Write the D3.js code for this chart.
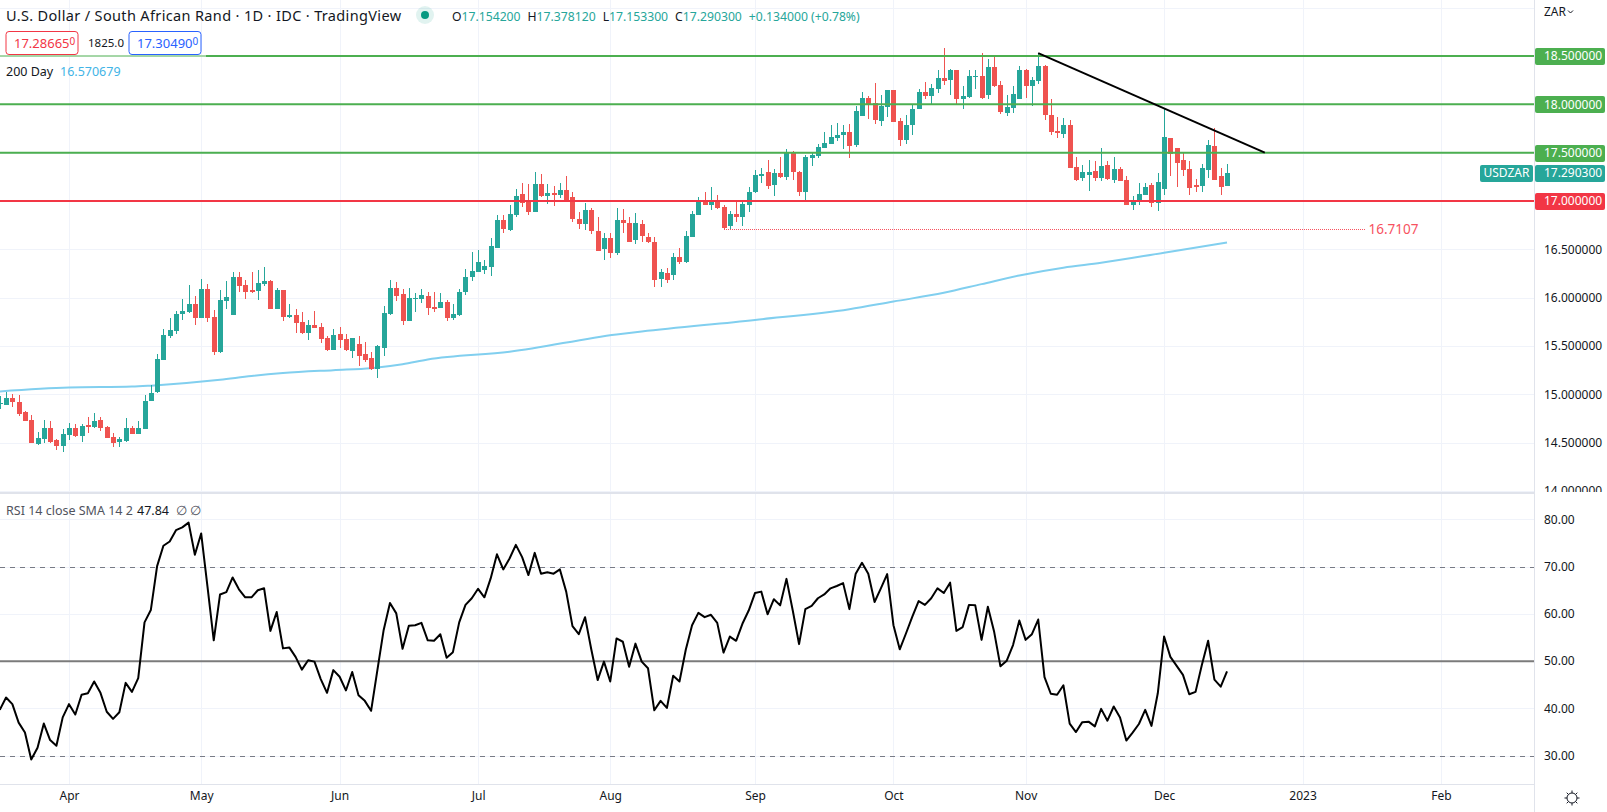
<!DOCTYPE html>
<html lang="en">
  <head>
    <meta charset="UTF-8" />
    <title>USDZAR Daily</title>
    <script src="https://d3js.org/d3.v7.min.js"></script>
    <style>
      html, body { margin: 0; padding: 0; background: #fff; overflow: hidden; }
      text { font-family: "Noto Sans", sans-serif; }
    </style>
  </head>

  <body>
    <script>
      // one candle per weekday, day 0 is 1 Apr 2022
      const firstDay = -11;

      const opens = [
        14.90,14.89,14.96,14.92,14.82,14.73,14.49,14.54,14.65,14.53,
        14.47,14.58,14.65,14.57,14.68,14.66,14.73,14.66,14.56,14.51,
        14.52,14.65,14.59,14.64,14.93,15.02,15.35,15.60,15.66,15.83,
        15.85,15.93,15.79,16.09,15.80,15.44,15.97,15.82,16.21,16.13,
        16.08,16.07,16.14,16.17,15.88,16.08,15.80,15.82,15.75,15.63,
        15.72,15.70,15.58,15.46,15.62,15.57,15.45,15.52,15.42,15.38,
        15.26,15.48,15.83,16.10,16.04,15.76,15.99,15.99,16.02,15.90,
        15.89,15.96,15.79,15.82,16.06,16.21,16.27,16.29,16.32,16.51,
        16.80,16.70,16.86,17.07,17.01,16.89,17.18,17.05,17.08,17.06,
        17.11,17.04,16.81,16.76,16.91,16.69,16.50,16.62,16.46,16.80,
        16.77,16.60,16.76,16.63,16.58,16.19,16.26,16.23,16.42,16.37,
        16.63,16.86,17.00,16.96,17.01,16.94,16.74,16.87,16.83,16.96,
        17.09,17.26,17.30,17.17,17.29,17.25,17.51,17.30,17.09,17.44,
        17.47,17.55,17.59,17.65,17.68,17.71,17.58,17.88,18.07,18.01,
        17.83,17.97,18.15,17.83,17.63,17.79,17.95,18.13,18.09,18.16,
        18.27,18.25,18.36,18.06,18.08,18.28,18.29,18.10,18.39,18.20,
        17.91,17.96,18.05,18.36,18.19,18.24,18.40,17.89,17.72,17.69,
        17.79,17.35,17.24,17.27,17.31,17.24,17.37,17.22,17.33,17.22,
        16.96,16.99,17.06,17.17,16.98,17.12,17.65,17.55,17.42,17.33,
        17.17,17.15,17.32,17.57,17.26,17.154,
      ];
      const highs = [
        14.98,15.02,15.00,14.99,14.83,14.79,14.61,14.73,14.72,14.54,
        14.64,14.70,14.69,14.69,14.77,14.81,14.77,14.67,14.60,14.56,
        14.75,14.67,14.72,14.99,15.10,15.42,15.68,15.79,15.86,15.99,
        16.13,16.02,16.19,16.14,15.87,16.08,16.17,16.27,16.27,16.18,
        16.27,16.29,16.32,16.18,16.10,16.08,15.93,15.88,15.85,15.77,
        15.86,15.74,15.60,15.68,15.70,15.62,15.58,15.60,15.54,15.44,
        15.51,15.91,16.18,16.16,16.09,16.10,16.05,16.09,16.06,16.06,
        16.05,15.98,15.93,16.09,16.30,16.47,16.49,16.39,16.62,16.86,
        16.86,16.96,17.12,17.19,17.18,17.30,17.28,17.18,17.16,17.19,
        17.26,17.09,16.89,16.98,16.93,16.83,16.67,16.67,16.93,16.92,
        16.83,16.88,16.80,16.67,16.63,16.30,16.31,16.46,16.51,16.69,
        16.90,17.04,17.09,17.14,17.06,16.96,16.90,16.99,17.00,17.14,
        17.32,17.34,17.42,17.33,17.46,17.54,17.52,17.31,17.48,17.50,
        17.59,17.71,17.79,17.81,17.79,17.80,17.98,18.13,18.09,18.22,
        18.10,18.15,18.15,17.86,17.89,18.00,18.16,18.23,18.21,18.35,
        18.58,18.37,18.36,18.19,18.35,18.36,18.53,18.47,18.50,18.24,
        18.10,18.19,18.40,18.37,18.28,18.53,18.41,18.06,17.87,17.86,
        17.84,17.46,17.37,17.42,17.41,17.55,17.41,17.46,17.35,17.26,
        17.05,17.19,17.19,17.19,17.29,17.95,17.65,17.55,17.50,17.41,
        17.23,17.38,17.63,17.76,17.34,17.378,
      ];
      const lows = [
        14.85,14.89,14.87,14.78,14.72,14.50,14.48,14.50,14.50,14.42,
        14.40,14.53,14.56,14.51,14.60,14.65,14.62,14.55,14.46,14.45,
        14.51,14.59,14.59,14.64,14.93,15.01,15.35,15.58,15.62,15.77,
        15.84,15.72,15.79,15.75,15.41,15.43,15.88,15.82,16.06,15.99,
        16.05,15.98,16.12,15.88,15.88,15.76,15.79,15.63,15.62,15.56,
        15.69,15.53,15.45,15.46,15.48,15.45,15.38,15.29,15.33,15.25,
        15.17,15.40,15.82,15.97,15.72,15.76,15.85,15.94,15.82,15.85,
        15.89,15.76,15.77,15.81,16.03,16.17,16.27,16.24,16.22,16.51,
        16.67,16.69,16.83,16.94,16.86,16.89,17.04,16.97,16.95,17.03,
        16.99,16.78,16.71,16.70,16.66,16.48,16.39,16.41,16.44,16.67,
        16.58,16.56,16.58,16.57,16.11,16.11,16.15,16.18,16.35,16.36,
        16.63,16.86,16.96,16.91,16.92,16.70,16.71,16.78,16.74,16.89,
        17.08,17.19,17.12,17.05,17.24,17.22,17.22,17.05,16.99,17.36,
        17.44,17.55,17.59,17.62,17.54,17.44,17.56,17.88,17.85,17.80,
        17.78,17.87,17.82,17.57,17.59,17.68,17.95,18.05,18.00,18.12,
        18.20,18.10,18.00,17.95,18.07,18.16,18.06,18.05,18.18,17.90,
        17.88,17.91,18.05,18.07,17.98,18.21,17.84,17.68,17.65,17.65,
        17.34,17.21,17.21,17.10,17.21,17.21,17.22,17.19,17.21,16.96,
        16.91,16.96,17.06,16.94,16.90,17.06,17.26,17.14,17.26,17.06,
        17.09,17.09,17.24,17.22,17.06,17.153,
      ];
      const closes = [
        14.91,14.96,14.92,14.80,14.72,14.50,14.55,14.65,14.51,14.47,
        14.59,14.65,14.57,14.67,14.66,14.72,14.65,14.55,14.50,14.54,
        14.65,14.59,14.65,14.93,15.01,15.37,15.61,15.67,15.83,15.86,
        15.93,15.79,16.09,15.79,15.44,15.98,16.01,16.21,16.12,16.06,
        16.06,16.15,16.17,15.88,16.08,15.80,15.82,15.74,15.63,15.72,
        15.69,15.57,15.46,15.61,15.56,15.46,15.58,15.40,15.36,15.26,
        15.50,15.84,16.10,16.02,15.76,16.00,16.00,16.03,15.89,15.88,
        15.95,15.79,15.83,16.06,16.21,16.28,16.37,16.33,16.53,16.80,
        16.71,16.87,17.05,16.98,16.89,17.18,17.05,17.08,17.06,17.11,
        17.00,16.81,16.76,16.91,16.69,16.48,16.62,16.46,16.80,16.77,
        16.58,16.77,16.64,16.58,16.18,16.27,16.18,16.42,16.37,16.64,
        16.87,17.00,16.96,17.00,16.93,16.72,16.87,16.83,16.97,17.09,
        17.27,17.28,17.15,17.29,17.25,17.51,17.30,17.09,17.45,17.48,
        17.56,17.60,17.66,17.68,17.71,17.57,17.93,18.07,18.00,17.84,
        17.98,18.15,17.82,17.63,17.79,17.95,18.13,18.09,18.17,18.27,
        18.24,18.36,18.06,18.09,18.29,18.29,18.07,18.39,18.19,17.92,
        17.97,18.11,18.36,18.19,18.25,18.40,17.89,17.71,17.70,17.79,
        17.34,17.22,17.30,17.30,17.24,17.36,17.23,17.33,17.21,16.96,
        17.01,17.07,17.14,16.98,17.20,17.66,17.49,17.39,17.32,17.13,
        17.14,17.34,17.58,17.22,17.14,17.290,
      ];
      const rsi = [
        39.7,42.3,40.9,37.0,34.9,29.2,31.7,36.8,33.3,32.1,
        38.1,40.9,38.7,42.9,43.2,45.7,43.3,39.3,37.8,39.2,
        45.4,43.5,46.4,58.2,60.8,70.1,74.4,75.3,77.7,78.3,
        79.3,72.5,77.0,65.8,54.4,64.1,64.6,67.7,65.2,63.5,
        63.5,65.0,65.4,56.4,60.4,52.7,52.9,50.9,48.2,50.2,
        49.9,46.2,43.3,48.1,46.7,43.8,47.7,42.8,41.6,39.5,
        48.1,56.6,62.3,60.1,52.6,57.5,57.6,58.1,54.4,54.3,
        55.7,50.7,51.9,58.2,61.9,63.3,65.3,63.5,67.5,72.6,
        69.4,71.7,74.6,72.0,68.2,72.9,68.5,68.8,68.5,69.4,
        64.7,57.4,55.7,59.3,52.4,46.0,49.9,45.7,54.8,54.1,
        48.8,53.7,49.9,48.5,39.6,41.6,40.1,46.9,45.7,52.4,
        57.6,60.2,59.3,59.8,58.1,51.8,55.2,54.3,57.9,60.7,
        64.4,64.7,59.9,63.1,61.8,67.4,60.7,53.6,61.0,61.7,
        63.3,64.1,65.4,65.9,66.5,61.0,68.5,70.8,68.5,62.5,
        65.4,68.4,57.6,52.5,55.9,59.4,62.7,61.9,63.3,65.4,
        64.4,66.6,56.4,57.2,61.9,61.8,54.5,61.5,56.2,48.9,
        50.1,53.4,58.6,54.5,55.7,58.8,46.6,43.1,42.9,44.9,
        36.8,35.0,37.1,37.2,36.2,39.9,37.4,40.4,38.1,33.2,
        34.9,36.7,39.7,36.3,43.2,55.2,50.9,49.0,47.1,43.0,
        43.5,49.2,54.3,46.1,44.6,47.84,
      ];

      // 200 day average, read at the days where its slope changes
      const maDays = [-11,0,10,13,24,29,34,42,48,53,57,70,87,91,109,124,131,139,145,151,158,164,174,184];
      const maValues = [15.03,15.07,15.08,15.09,15.15,15.19,15.22,15.25,15.27,15.31,15.36,15.44,15.62,15.65,15.77,15.88,15.96,16.05,16.14,16.23,16.31,16.36,16.465,16.5707];

      const trendDays = [154, 190];
      const trendPrices = [18.53, 17.5];
      const lowDays = [104, 206];
      const lowPrices = [16.7107, 16.7107];

      const greenLevels = [18.5, 18, 17.5];
      const redLevels = [17];
      const priceTicks = [16.5, 16, 15.5, 15, 14.5, 14];
      const priceGrid = [19, 18.5, 18, 17.5, 17, 16.5, 16, 15.5, 15, 14.5, 14];
      const rsiTicks = [80, 70, 60, 50, 40, 30];
      const rsiDashed = [70, 30];
      const monthDays = [0, 21, 43, 65, 86, 109, 131, 152, 174, 196, 218];
      const monthLabels = ["Apr", "May", "Jun", "Jul", "Aug", "Sep", "Oct", "Nov", "Dec", "2023", "Feb"];

      const lastPrice = 17.2903;

      const width = 1607;
      const height = 812;
      const axisX = 1534;
      const paneBottom = 493;
      const timeTop = 784;

      const up = "#26a69a";
      const down = "#ef5350";
      const green = "#4caf50";
      const red = "#f23645";
      const grid = "#f0f3fa";
      const border = "#e0e3eb";
      const ink = "#131722";

      const x = d3.scaleLinear().domain([0, 218]).range([69, 1441]);
      const y = d3.scaleLinear().domain([14, 19]).range([491, 7.65]);
      const yRsi = d3.scaleLinear().domain([30, 80]).range([755.7, 519.3]);

      const days = d3.range(closes.length).map((i) => i + firstDay);
      const candles = days.map((day, i) => ({
        day,
        open: opens[i],
        high: highs[i],
        low: lows[i],
        close: closes[i],
      }));

      const svg = d3
        .select("body")
        .append("svg")
        .attr("width", width)
        .attr("height", height)
        .style("display", "block");

      svg.append("rect").attr("width", width).attr("height", height).attr("fill", "#fff");

      svg
        .append("clipPath")
        .attr("id", "main-clip")
        .append("rect")
        .attr("width", width)
        .attr("height", paneBottom - 1);

      // grid
      const gridG = svg.append("g").attr("shape-rendering", "crispEdges").attr("stroke", grid);
      gridG
        .selectAll(".v")
        .data(monthDays)
        .join("line")
        .attr("x1", (d) => Math.round(x(d)) + 0.5)
        .attr("x2", (d) => Math.round(x(d)) + 0.5)
        .attr("y1", 0)
        .attr("y2", timeTop);
      gridG
        .selectAll(".h")
        .data(priceGrid)
        .join("line")
        .attr("x1", 0)
        .attr("x2", axisX)
        .attr("y1", (d) => Math.round(y(d)) + 0.5)
        .attr("y2", (d) => Math.round(y(d)) + 0.5);
      gridG
        .selectAll(".r")
        .data(rsiTicks)
        .join("line")
        .attr("x1", 0)
        .attr("x2", axisX)
        .attr("y1", (d) => Math.round(yRsi(d)) + 0.5)
        .attr("y2", (d) => Math.round(yRsi(d)) + 0.5);

      // 200 day line
      const maLine = d3
        .line()
        .x((d, i) => x(maDays[i]))
        .y((d) => y(d))
        .curve(d3.curveMonotoneX);
      svg
        .append("path")
        .attr("d", maLine(maValues))
        .attr("fill", "none")
        .attr("stroke", "#81cfef")
        .attr("stroke-width", 2);

      // candles
      const candleG = svg.append("g").attr("shape-rendering", "crispEdges");
      const color = (d) => (d.close >= d.open ? up : down);
      candleG
        .selectAll(".wick")
        .data(candles)
        .join("rect")
        .attr("x", (d) => Math.round(x(d.day)) - 0.5)
        .attr("width", 1)
        .attr("y", (d) => y(d.high))
        .attr("height", (d) => y(d.low) - y(d.high))
        .attr("fill", color);
      candleG
        .selectAll(".body")
        .data(candles)
        .join("rect")
        .attr("x", (d) => Math.round(x(d.day)) - 2.5)
        .attr("width", 5)
        .attr("y", (d) => y(Math.max(d.open, d.close)))
        .attr("height", (d) => Math.max(1, Math.abs(y(d.open) - y(d.close))))
        .attr("fill", color);

      // 16.7107 low marker
      svg
        .append("line")
        .attr("x1", x(lowDays[0]))
        .attr("x2", x(lowDays[1]))
        .attr("y1", Math.round(y(lowPrices[0])) + 0.5)
        .attr("y2", Math.round(y(lowPrices[1])) + 0.5)
        .attr("stroke", "#f7525f")
        .attr("stroke-dasharray", "1 1")
        .attr("shape-rendering", "crispEdges");
      svg
        .append("text")
        .attr("x", x(lowDays[1]) + 3)
        .attr("y", y(lowPrices[0]) + 5)
        .attr("fill", "#f7525f")
        .attr("font-size", 13.5)
        .text("16.7107");

      // support and resistance levels
      svg
        .selectAll(".green-level")
        .data(greenLevels)
        .join("line")
        .attr("x1", 0)
        .attr("x2", axisX)
        .attr("y1", (d) => y(d))
        .attr("y2", (d) => y(d))
        .attr("stroke", green)
        .attr("stroke-width", 2);
      svg
        .selectAll(".red-level")
        .data(redLevels)
        .join("line")
        .attr("x1", 0)
        .attr("x2", axisX)
        .attr("y1", (d) => y(d))
        .attr("y2", (d) => y(d))
        .attr("stroke", red)
        .attr("stroke-width", 2);

      // legend backdrop washes out the top level under the boxes
      svg
        .append("rect")
        .attr("x", 0)
        .attr("y", y(18.5) - 1)
        .attr("width", 206)
        .attr("height", 2)
        .attr("fill", "#fff")
        .attr("fill-opacity", 0.5);

      // trend line
      svg
        .append("line")
        .attr("x1", x(trendDays[0]))
        .attr("y1", y(trendPrices[0]))
        .attr("x2", x(trendDays[1]))
        .attr("y2", y(trendPrices[1]))
        .attr("stroke", "#000")
        .attr("stroke-width", 2);

      // rsi pane
      svg
        .selectAll(".rsi-dash")
        .data(rsiDashed)
        .join("line")
        .attr("x1", 0)
        .attr("x2", axisX)
        .attr("y1", (d) => Math.round(yRsi(d)) + 0.5)
        .attr("y2", (d) => Math.round(yRsi(d)) + 0.5)
        .attr("stroke", "#787b86")
        .attr("stroke-dasharray", "5 5")
        .attr("shape-rendering", "crispEdges");
      svg
        .append("line")
        .attr("x1", 0)
        .attr("x2", axisX)
        .attr("y1", yRsi(50))
        .attr("y2", yRsi(50))
        .attr("stroke", "#7b7b7b")
        .attr("stroke-width", 2);
      const rsiLine = d3
        .line()
        .x((d, i) => x(days[i]))
        .y((d) => yRsi(d));
      svg
        .append("path")
        .attr("d", rsiLine(rsi))
        .attr("fill", "none")
        .attr("stroke", "#000")
        .attr("stroke-width", 2)
        .attr("stroke-linejoin", "round");

      // frame
      const frame = svg.append("g").attr("stroke", border).attr("shape-rendering", "crispEdges");
      frame.append("line").attr("x1", 0).attr("x2", axisX).attr("y1", paneBottom).attr("y2", paneBottom).attr("stroke-width", 2);
      frame.append("line").attr("x1", 0).attr("x2", axisX).attr("y1", timeTop + 0.5).attr("y2", timeTop + 0.5);
      frame.append("line").attr("x1", axisX + 0.5).attr("x2", axisX + 0.5).attr("y1", 0).attr("y2", height);

      // axes
      const priceAxis = d3
        .axisRight(y)
        .tickValues(priceTicks)
        .tickFormat(d3.format(".6f"))
        .tickSize(0)
        .tickPadding(10);
      const priceG = svg
        .append("g")
        .attr("clip-path", "url(#main-clip)")
        .append("g")
        .attr("transform", `translate(${axisX}, 0)`)
        .call(priceAxis);
      const rsiAxis = d3
        .axisRight(yRsi)
        .tickValues(rsiTicks)
        .tickFormat(d3.format(".2f"))
        .tickSize(0)
        .tickPadding(10);
      const rsiG = svg.append("g").attr("transform", `translate(${axisX}, 0)`).call(rsiAxis);
      const timeAxis = d3
        .axisBottom(x)
        .tickValues(monthDays)
        .tickFormat((d, i) => monthLabels[i])
        .tickSize(0)
        .tickPadding(7);
      const timeG = svg.append("g").attr("transform", `translate(0, ${timeTop})`).call(timeAxis);
      [priceG, rsiG, timeG].forEach((g) => {
        g.select(".domain").remove();
        g.selectAll("text")
          .attr("font-family", null)
          .attr("font-size", 12)
          .attr("fill", ink);
      });

      // coloured price tags on the axis
      const tags = greenLevels
        .map((v) => ({ v, fill: green }))
        .concat(redLevels.map((v) => ({ v, fill: red })))
        .concat([{ v: lastPrice, fill: up }]);
      const tagG = svg.selectAll(".tag").data(tags).join("g");
      tagG
        .append("rect")
        .attr("x", axisX + 1)
        .attr("width", 70)
        .attr("y", (d) => Math.round(y(d.v)) - 8)
        .attr("height", 17)
        .attr("rx", 2)
        .attr("fill", (d) => d.fill);
      tagG
        .append("text")
        .attr("x", axisX + 10)
        .attr("y", (d) => y(d.v) + 4.5)
        .attr("fill", "#fff")
        .attr("font-size", 12)
        .text((d) => d3.format(".6f")(d.v));
      svg
        .append("rect")
        .attr("x", 1480)
        .attr("y", Math.round(y(lastPrice)) - 8)
        .attr("width", 53)
        .attr("height", 17)
        .attr("rx", 2)
        .attr("fill", up);
      svg
        .append("text")
        .attr("x", 1506.5)
        .attr("y", y(lastPrice) + 4.5)
        .attr("text-anchor", "middle")
        .attr("fill", "#fff")
        .attr("font-size", 12)
        .text("USDZAR");

      // header
      svg
        .append("text")
        .attr("x", 6)
        .attr("y", 21)
        .attr("font-size", 14.5)
        .attr("letter-spacing", 0.35)
        .attr("fill", ink)
        .text("U.S. Dollar / South African Rand · 1D · IDC · TradingView");
      svg.append("circle").attr("cx", 425).attr("cy", 15).attr("r", 9).attr("fill", "#089981").attr("fill-opacity", 0.12);
      svg.append("circle").attr("cx", 425).attr("cy", 15).attr("r", 4).attr("fill", "#089981");

      const ohlc = [
        ["O", "17.154200"],
        ["H", "17.378120"],
        ["L", "17.153300"],
        ["C", "17.290300"],
      ];
      const ohlcText = svg
        .append("text")
        .attr("x", 452)
        .attr("y", 21)
        .attr("font-size", 12.2)
        .attr("fill", up);
      ohlc.forEach(([k, v], i) => {
        ohlcText.append("tspan").attr("dx", i ? 7 : 0).attr("fill", ink).text(k);
        ohlcText.append("tspan").text(v);
      });
      ohlcText.append("tspan").attr("dx", 7).text("+0.134000 (+0.78%)");

      // bid / ask boxes
      const boxes = [
        { x: 6, w: 73, color: red, text: "17.28665" },
        { x: 129, w: 73, color: "#2962ff", text: "17.30490" },
      ];
      boxes.forEach((b) => {
        svg
          .append("rect")
          .attr("x", b.x)
          .attr("y", 31.5)
          .attr("width", b.w - 1)
          .attr("height", 23)
          .attr("rx", 3)
          .attr("fill", "#fff")
          .attr("stroke", b.color);
        const t = svg
          .append("text")
          .attr("x", b.x + 8)
          .attr("y", 48)
          .attr("font-size", 13)
          .attr("fill", b.color)
          .text(b.text);
        t.append("tspan").attr("font-size", 10).attr("dy", -3).text("0");
      });
      svg.append("text").attr("x", 88).attr("y", 47).attr("font-size", 11.5).attr("fill", ink).text("1825.0");

      svg.append("text").attr("x", 6).attr("y", 76).attr("font-size", 12.5).attr("fill", ink).text("200 Day");
      svg.append("text").attr("x", 60).attr("y", 76).attr("font-size", 12.5).attr("fill", "#42b4e6").text("16.570679");

      // rsi legend
      svg.append("text").attr("x", 6).attr("y", 515).attr("font-size", 12.5).attr("fill", "#50535e").text("RSI 14 close SMA 14 2");
      svg.append("text").attr("x", 137).attr("y", 515).attr("font-size", 12.5).attr("fill", ink).text("47.84");
      svg.append("text").attr("x", 176).attr("y", 515).attr("font-size", 12.5).attr("fill", "#50535e").text("∅");
      svg.append("text").attr("x", 190).attr("y", 515).attr("font-size", 12.5).attr("fill", "#50535e").text("∅");

      // currency menu
      svg.append("text").attr("x", 1544).attr("y", 16).attr("font-size", 12).attr("fill", ink).text("ZAR");
      svg
        .append("path")
        .attr("d", "M1568 10.5l2.5 2.5 2.5-2.5")
        .attr("fill", "none")
        .attr("stroke", ink);

      // settings wheel
      const wheel = svg.append("g").attr("transform", "translate(1572, 798)").attr("stroke", ink).attr("fill", "none");
      wheel.append("circle").attr("r", 5);
      wheel
        .selectAll("line")
        .data(d3.range(8))
        .join("line")
        .attr("x1", (d) => 5 * Math.cos((d * Math.PI) / 4))
        .attr("y1", (d) => 5 * Math.sin((d * Math.PI) / 4))
        .attr("x2", (d) => 7.5 * Math.cos((d * Math.PI) / 4))
        .attr("y2", (d) => 7.5 * Math.sin((d * Math.PI) / 4));
    </script>
  </body>
</html>
